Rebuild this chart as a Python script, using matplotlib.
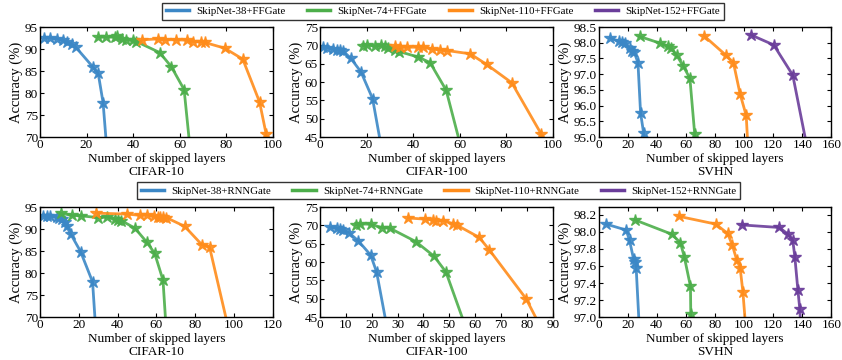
import numpy as np
import matplotlib
matplotlib.use('Agg')
import matplotlib.pyplot as plt
from matplotlib.lines import Line2D

plt.rcParams['font.family'] = ['Liberation Serif', 'DejaVu Serif']
plt.rcParams['mathtext.fontset'] = 'stix'

colors = ['#3b87c6', '#4cae4a', '#ff8c1a', '#6a3d9a']
ff_names = ['SkipNet-38+FFGate', 'SkipNet-74+FFGate', 'SkipNet-110+FFGate', 'SkipNet-152+FFGate']
rnn_names = ['SkipNet-38+RNNGate', 'SkipNet-74+RNNGate', 'SkipNet-110+RNNGate', 'SkipNet-152+RNNGate']

# ---- FFGate, CIFAR-10 ----
ff_c10_38_x = [1.9, 4.3, 7.4, 10.0, 11.4, 13.6, 15.4, 22.6, 25.0, 27.1, 29.5]
ff_c10_38_y = [92.5, 92.5, 92.3, 92.0, 91.7, 91.2, 90.4, 86.0, 84.5, 77.8, 62.0]
ff_c10_74_x = [25.0, 28.3, 32.1, 33.1, 35.4, 37.1, 40.0, 41.4, 51.4, 56.4, 61.9, 65.5]
ff_c10_74_y = [92.7, 92.7, 92.7, 92.9, 92.3, 92.1, 92.0, 91.7, 89.2, 86.0, 80.8, 62.0]
ff_c10_110_x = [44.0, 50.7, 53.6, 58.6, 63.1, 65.7, 69.3, 70.7, 79.3, 87.1, 94.3, 97.1, 98.5]
ff_c10_110_y = [92.1, 92.3, 92.1, 92.1, 92.0, 91.7, 91.6, 91.5, 90.2, 87.7, 78.0, 70.8, 62.0]

# ---- FFGate, CIFAR-100 ----
ff_c100_38_x = [1.4, 3.2, 5.4, 7.2, 8.6, 9.7, 13.2, 17.6, 22.6, 27.0]
ff_c100_38_y = [69.5, 69.4, 69.0, 68.8, 68.8, 68.6, 66.5, 62.8, 55.5, 40.0]
ff_c100_74_x = [18.6, 20.3, 23.6, 26.2, 27.9, 29.4, 32.2, 34.1, 42.3, 47.3, 54.2, 61.5]
ff_c100_74_y = [69.9, 70.2, 69.7, 70.0, 69.7, 69.2, 68.8, 68.3, 66.8, 65.3, 57.8, 40.0]
ff_c100_110_x = [32.2, 34.4, 37.2, 42.3, 44.4, 48.0, 51.6, 54.4, 64.5, 71.6, 82.4, 95.0, 98.0]
ff_c100_110_y = [69.7, 69.5, 69.5, 69.5, 69.5, 69.0, 68.8, 68.6, 67.7, 64.8, 59.8, 45.9, 40.0]

# ---- FFGate, SVHN ----
ff_svhn_38_x = [7.8, 14.3, 16.1, 18.4, 21.2, 23.0, 24.4, 27.0, 28.8, 30.9, 32.5]
ff_svhn_38_y = [98.15, 98.04, 98.01, 98.0, 97.83, 97.75, 97.7, 97.37, 95.77, 95.13, 94.5]
ff_svhn_74_x = [28.1, 41.9, 47.7, 50.0, 53.5, 58.1, 62.7, 66.0, 66.5]
ff_svhn_74_y = [98.2, 97.99, 97.9, 97.83, 97.61, 97.26, 96.87, 95.1, 94.5]
ff_svhn_110_x = [72.4, 87.3, 92.6, 97.2, 101.4, 102.8]
ff_svhn_110_y = [98.22, 97.61, 97.37, 96.37, 95.69, 94.5]
ff_svhn_152_x = [104.6, 120.3, 133.4, 144.0]
ff_svhn_152_y = [98.25, 97.93, 96.97, 94.5]

# ---- RNNGate, CIFAR-10 ----
rnn_c10_38_x = [1.4, 3.4, 5.1, 8.6, 9.9, 11.1, 12.9, 13.7, 15.8, 20.9, 27.1, 29.5]
rnn_c10_38_y = [92.9, 92.9, 92.9, 92.7, 92.5, 92.3, 91.7, 90.6, 88.9, 84.9, 78.0, 62.0]
rnn_c10_74_x = [10.6, 16.3, 20.9, 30.0, 34.6, 38.6, 40.3, 42.0, 48.9, 54.9, 59.1, 63.4, 65.8]
rnn_c10_74_y = [93.6, 93.1, 93.0, 92.6, 92.7, 92.3, 92.0, 91.9, 90.2, 87.1, 84.5, 78.4, 62.0]
rnn_c10_110_x = [29.1, 44.6, 51.8, 54.9, 58.6, 60.9, 62.0, 63.4, 65.1, 74.6, 83.5, 87.4, 100.0]
rnn_c10_110_y = [93.6, 93.4, 93.1, 93.2, 92.9, 92.7, 92.7, 92.7, 92.6, 90.6, 86.4, 85.9, 62.0]

# ---- RNNGate, CIFAR-100 ----
rnn_c100_38_x = [3.9, 6.4, 7.7, 9.0, 11.2, 14.8, 19.6, 21.9, 26.5]
rnn_c100_38_y = [69.5, 69.2, 69.0, 68.8, 68.0, 65.8, 61.9, 57.3, 40.0]
rnn_c100_74_x = [13.9, 15.5, 19.6, 23.9, 27.1, 37.0, 44.1, 48.7, 57.5]
rnn_c100_74_y = [70.2, 70.4, 70.3, 69.4, 69.2, 65.6, 61.6, 57.3, 40.0]
rnn_c100_110_x = [34.2, 40.6, 43.6, 44.7, 47.7, 51.6, 53.1, 61.6, 65.5, 79.7, 87.0]
rnn_c100_110_y = [72.0, 71.7, 71.5, 71.3, 71.3, 70.4, 70.0, 66.7, 63.3, 50.0, 40.0]

# ---- RNNGate, SVHN ----
rnn_svhn_38_x = [5.1, 18.9, 21.2, 24.0, 25.3, 25.8, 28.0]
rnn_svhn_38_y = [98.09, 98.02, 97.9, 97.68, 97.65, 97.57, 96.85]
rnn_svhn_74_x = [24.7, 50.5, 56.2, 58.8, 63.1, 63.3, 63.4]
rnn_svhn_74_y = [98.14, 97.97, 97.87, 97.71, 97.36, 97.04, 96.85]
rnn_svhn_110_x = [55.3, 80.4, 88.7, 91.9, 94.9, 97.2, 99.1, 101.2]
rnn_svhn_110_y = [98.18, 98.09, 97.98, 97.84, 97.67, 97.58, 97.3, 96.85]
rnn_svhn_152_x = [98.4, 124.2, 130.2, 133.4, 134.8, 136.9, 138.2, 139.0]
rnn_svhn_152_y = [98.08, 98.05, 97.97, 97.9, 97.71, 97.32, 97.1, 96.85]

panels = [
    # (series, xlim, xticks, ylim, yticks, ytick fmt, dataset)
    ([(ff_c10_38_x, ff_c10_38_y), (ff_c10_74_x, ff_c10_74_y), (ff_c10_110_x, ff_c10_110_y)],
     (0, 100), np.arange(0, 101, 20), (70, 95), np.arange(70, 96, 5), '%d', 'CIFAR-10'),
    ([(ff_c100_38_x, ff_c100_38_y), (ff_c100_74_x, ff_c100_74_y), (ff_c100_110_x, ff_c100_110_y)],
     (0, 100), np.arange(0, 101, 20), (45, 75), np.arange(45, 76, 5), '%d', 'CIFAR-100'),
    ([(ff_svhn_38_x, ff_svhn_38_y), (ff_svhn_74_x, ff_svhn_74_y), (ff_svhn_110_x, ff_svhn_110_y),
      (ff_svhn_152_x, ff_svhn_152_y)],
     (0, 160), np.arange(0, 161, 20), (95, 98.5), np.arange(95, 98.51, 0.5), '%.1f', 'SVHN'),
    ([(rnn_c10_38_x, rnn_c10_38_y), (rnn_c10_74_x, rnn_c10_74_y), (rnn_c10_110_x, rnn_c10_110_y)],
     (0, 120), np.arange(0, 121, 20), (70, 95), np.arange(70, 96, 5), '%d', 'CIFAR-10'),
    ([(rnn_c100_38_x, rnn_c100_38_y), (rnn_c100_74_x, rnn_c100_74_y), (rnn_c100_110_x, rnn_c100_110_y)],
     (0, 90), np.arange(0, 91, 10), (45, 75), np.arange(45, 76, 5), '%d', 'CIFAR-100'),
    ([(rnn_svhn_38_x, rnn_svhn_38_y), (rnn_svhn_74_x, rnn_svhn_74_y), (rnn_svhn_110_x, rnn_svhn_110_y),
      (rnn_svhn_152_x, rnn_svhn_152_y)],
     (0, 160), np.arange(0, 161, 20), (97.0, 98.29), np.arange(97.0, 98.21, 0.2), '%.1f', 'SVHN'),
]

fig = plt.figure(figsize=(8.42, 3.6), dpi=100)
lefts = [0.0475, 0.380, 0.711]
bottoms = [0.619, 0.119]
w, h = 0.2765, 0.306

for i, (series, xlim, xticks, ylim, yticks, fmt, name) in enumerate(panels):
    ax = fig.add_axes([lefts[i % 3], bottoms[i // 3], w, h])
    for k, (x, y) in enumerate(series):
        ax.plot(x, y, color=colors[k], marker='*', markersize=9, lw=2.0, alpha=0.9)
    ax.set_xlim(*xlim)
    ax.set_ylim(*ylim)
    ax.set_xticks(xticks)
    ax.set_yticks(yticks)
    ax.set_yticklabels([fmt % v for v in yticks])
    ax.tick_params(direction='in', top=True, right=True, labelsize=9.5, length=3, pad=1.5)
    ax.set_xlabel('Number of skipped layers\n' + name, fontsize=9.5, labelpad=1, linespacing=1.1)
    ax.set_ylabel('Accuracy (%)', fontsize=10.5, labelpad=1)
    for s in ax.spines.values():
        s.set_linewidth(1.0)

for names, ypos, xc in [(ff_names, 0.995, 0.526), (rnn_names, 0.497, 0.521)]:
    handles = [Line2D([0], [0], color=c, lw=2.5) for c in colors]
    leg = fig.legend(handles, names, loc='upper center', bbox_to_anchor=(xc, ypos), ncol=4,
                     fontsize=7.8, frameon=True, fancybox=False, edgecolor='black',
                     borderpad=0.35, handlelength=2.15, columnspacing=2.0, handletextpad=0.65,
                     borderaxespad=0.1)
    leg.get_frame().set_linewidth(1.0)

fig.savefig('out.png', dpi=100)
